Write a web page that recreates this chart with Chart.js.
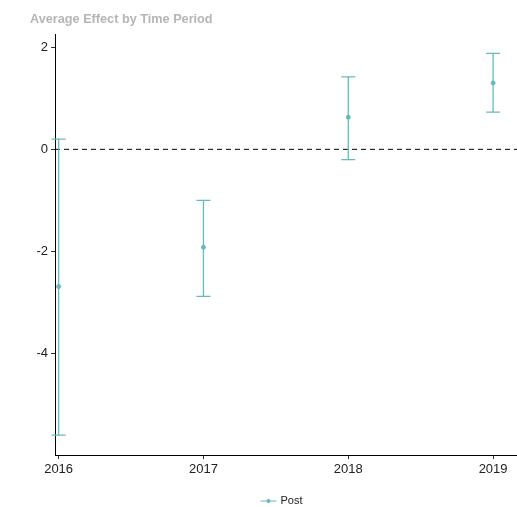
<!DOCTYPE html>
<html>
<head>
<meta charset="utf-8">
<script src="https://cdn.jsdelivr.net/npm/chart.js@4"></script>
<style>
  html, body { margin: 0; padding: 0; background: #fff; }
  #wrap { width: 517px; height: 507px; position: relative; }
</style>
</head>
<body>
<div id="wrap"><canvas id="effect-chart"></canvas></div>
<script>
const years = [2016, 2017, 2018, 2019];
const estimates = [-2.69, -1.92, 0.63, 1.30];
const lowerBounds = [-5.60, -2.88, -0.20, 0.73];
const upperBounds = [0.20, -1.00, 1.42, 1.88];
const yTicks = [2, 0, -2, -4];
const seriesName = "Post";
const chartTitle = "Average Effect by Time Period";

const teal = "#66b9be";
const fontFamily = "Liberation Sans, Arial, sans-serif";

// dashed reference line at zero plus whiskers with caps
const errorBarPlugin = {
  id: "errorBars",
  beforeDatasetsDraw(chart) {
    const { ctx, chartArea, scales } = chart;
    const y0 = scales.y.getPixelForValue(0);
    ctx.save();
    ctx.strokeStyle = "#000";
    ctx.lineWidth = 1;
    ctx.setLineDash([5, 4]);
    ctx.beginPath();
    ctx.moveTo(chartArea.left, y0);
    ctx.lineTo(chartArea.right, y0);
    ctx.stroke();
    ctx.setLineDash([]);

    ctx.strokeStyle = teal;
    ctx.lineWidth = 1.3;
    years.forEach((year, i) => {
      const x = scales.x.getPixelForValue(year);
      const lo = scales.y.getPixelForValue(lowerBounds[i]);
      const hi = scales.y.getPixelForValue(upperBounds[i]);
      ctx.beginPath();
      ctx.moveTo(x, lo);
      ctx.lineTo(x, hi);
      ctx.moveTo(x - 7, lo);
      ctx.lineTo(x + 7, lo);
      ctx.moveTo(x - 7, hi);
      ctx.lineTo(x + 7, hi);
      ctx.stroke();
    });
    ctx.restore();
  },
};

// title at the top left and a small legend at the bottom
const decorPlugin = {
  id: "decor",
  afterDraw(chart) {
    const { ctx, width, height } = chart;
    ctx.save();
    ctx.fillStyle = "#b5b5b5";
    ctx.font = `bold 12.7px ${fontFamily}`;
    ctx.textBaseline = "middle";
    ctx.textAlign = "left";
    ctx.fillText(chartTitle, 30, 19);

    const cy = height - 6;
    const cx = width / 2 + 22;
    ctx.strokeStyle = teal;
    ctx.lineWidth = 1;
    ctx.beginPath();
    ctx.moveTo(cx - 20, cy);
    ctx.lineTo(cx - 4, cy);
    ctx.stroke();
    ctx.fillStyle = teal;
    ctx.beginPath();
    ctx.arc(cx - 12, cy, 2, 0, Math.PI * 2);
    ctx.fill();
    ctx.fillStyle = "#222";
    ctx.font = `11px ${fontFamily}`;
    ctx.fillText(seriesName, cx, cy);
    ctx.restore();
  },
};

new Chart(document.querySelector("#effect-chart"), {
  type: "scatter",
  data: {
    datasets: [
      {
        label: seriesName,
        data: years.map((year, i) => ({ x: year, y: estimates[i] })),
        backgroundColor: teal,
        borderColor: teal,
        pointRadius: 2,
        pointStyle: "circle",
      },
    ],
  },
  options: {
    responsive: true,
    maintainAspectRatio: false,
    animation: false,
    layout: { autoPadding: false, padding: { top: 34, right: 0, left: 0, bottom: 24 } },
    plugins: {
      title: { display: false },
      legend: { display: false },
      tooltip: { enabled: false },
    },
    scales: {
      x: {
        type: "linear",
        min: 2015.975,
        max: 2019.165,
        afterBuildTicks: (axis) => {
          axis.ticks = years.map((v) => ({ value: v }));
        },
        afterFit: (axis) => {
          axis.height = 28;
          axis.paddingRight = 0;
          axis.paddingLeft = 0;
        },
        ticks: {
          color: "#222",
          font: { family: fontFamily, size: 13 },
          padding: 3,
          maxRotation: 0,
          callback: (v) => String(v),
        },
        grid: { drawOnChartArea: false, tickLength: 4, color: "#333" },
        border: { color: "#000", width: 1 },
      },
      y: {
        min: -5.99,
        max: 2.26,
        afterBuildTicks: (axis) => {
          axis.ticks = yTicks.map((v) => ({ value: v }));
        },
        afterFit: (axis) => {
          axis.width = 55;
          axis.paddingTop = 0;
          axis.paddingBottom = 0;
        },
        ticks: {
          color: "#222",
          font: { family: fontFamily, size: 13 },
          padding: 3,
        },
        grid: { drawOnChartArea: false, tickLength: 4, color: "#333" },
        border: { color: "#000", width: 1 },
      },
    },
  },
  plugins: [errorBarPlugin, decorPlugin],
});
</script>
</body>
</html>
